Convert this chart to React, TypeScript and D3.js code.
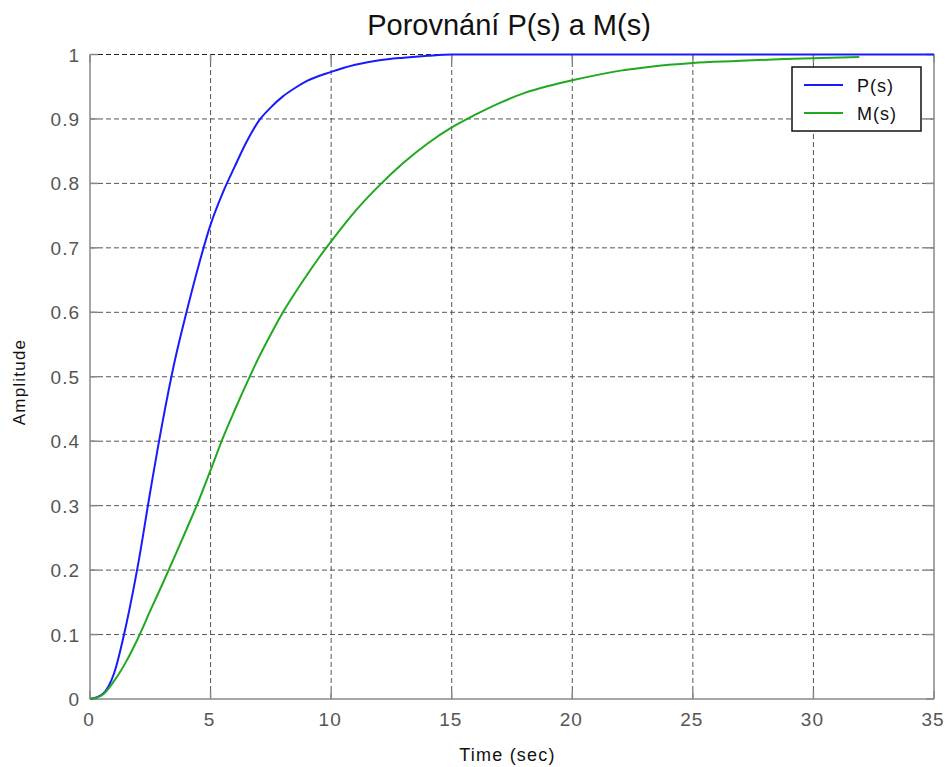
import React from "react";
import * as d3 from "d3";

const W = 947;
const H = 767;

const xTicks = [0, 5, 10, 15, 20, 25, 30, 35];
const yTicks = [0, 0.1, 0.2, 0.3, 0.4, 0.5, 0.6, 0.7, 0.8, 0.9, 1];
const yTickLabels = ["0", "0.1", "0.2", "0.3", "0.4", "0.5", "0.6", "0.7", "0.8", "0.9", "1"];

const tP = [0, 0.5, 1, 1.5, 2, 2.5, 3, 3.5, 4, 4.5, 5, 5.5, 6, 6.5, 7, 7.5, 8, 8.5, 9, 10, 11, 12, 13, 14, 15, 35];
const P = [0, 0.007, 0.04, 0.115, 0.21, 0.322, 0.428, 0.522, 0.6, 0.672, 0.736, 0.785, 0.826, 0.865, 0.897, 0.918, 0.935, 0.948, 0.959, 0.973, 0.984, 0.991, 0.995, 0.998, 1.0, 1.0];

const tM = [0, 0.5, 1, 1.5, 2, 2.5, 3, 3.5, 4, 4.5, 5, 5.5, 6, 6.5, 7, 7.5, 8, 8.5, 9, 9.5, 10, 11, 12, 13, 14, 15, 16, 17, 18, 19, 20, 21, 22, 23, 24, 25, 26.8, 28.8, 31.9];
const M = [0, 0.006, 0.028, 0.058, 0.095, 0.137, 0.178, 0.22, 0.263, 0.307, 0.355, 0.404, 0.448, 0.49, 0.53, 0.566, 0.6, 0.63, 0.658, 0.685, 0.71, 0.757, 0.797, 0.832, 0.862, 0.887, 0.907, 0.925, 0.94, 0.951, 0.96, 0.968, 0.975, 0.98, 0.984, 0.987, 0.99, 0.993, 0.996];

const seriesNames = ["P(s)", "M(s)"];
const seriesColors = ["#1a1aff", "#20a820"];

const title = "Porovnání P(s) a M(s)";
const xLabel = "Time (sec)";
const yLabel = "Amplitude";

const margin = { left: 90, right: 934, top: 54.5, bottom: 699 };

export default function App() {
  const x = d3.scaleLinear().domain([0, 35]).range([margin.left, margin.right]);
  const y = d3.scaleLinear().domain([0, 1]).range([margin.bottom, margin.top]);

  const line = d3
    .line<[number, number]>()
    .x((d) => x(d[0]))
    .y((d) => y(d[1]))
    .curve(d3.curveMonotoneX);

  const pData: [number, number][] = tP.map((t, i) => [t, P[i]]);
  const mData: [number, number][] = tM.map((t, i) => [t, M[i]]);

  const font = "'Liberation Sans', Arial, sans-serif";
  const gridColor = "#555";
  const axisColor = "#888";

  return (
    <svg
      width={W}
      height={H}
      style={{ position: "absolute", left: 0, top: 0, background: "#fff" }}
      fontFamily={font}
    >
      <rect x={0} y={0} width={W} height={H} fill="#fff" />
      {/* grid */}
      {xTicks.slice(1, -1).map((t) => (
        <line
          key={"gx" + t}
          x1={x(t)}
          x2={x(t)}
          y1={y(0)}
          y2={y(1)}
          stroke={gridColor}
          strokeWidth={1}
          strokeDasharray="5,3"
        />
      ))}
      {yTicks.slice(1).map((t) => (
        <line
          key={"gy" + t}
          x1={x(0)}
          x2={x(35)}
          y1={y(t)}
          y2={y(t)}
          stroke={t === 1 ? "#222" : gridColor}
          strokeWidth={1}
          strokeDasharray="5,3"
        />
      ))}
      {/* axes box */}
      <line x1={x(0)} x2={x(35)} y1={y(0)} y2={y(0)} stroke={axisColor} strokeWidth={1.5} />
      <line x1={x(0)} x2={x(0)} y1={y(0)} y2={y(1)} stroke={axisColor} strokeWidth={1.5} />
      <line x1={x(35)} x2={x(35)} y1={y(0)} y2={y(1)} stroke={axisColor} strokeWidth={1.5} />
      {/* tick marks */}
      {xTicks.map((t) => (
        <g key={"tx" + t}>
          <line x1={x(t)} x2={x(t)} y1={y(0)} y2={y(0) - 8} stroke={axisColor} strokeWidth={1.5} />
          <line x1={x(t)} x2={x(t)} y1={y(1)} y2={y(1) + 8} stroke={axisColor} strokeWidth={1.5} />
        </g>
      ))}
      {yTicks.map((t) => (
        <g key={"ty" + t}>
          <line x1={x(0)} x2={x(0) + 8} y1={y(t)} y2={y(t)} stroke={axisColor} strokeWidth={1.5} />
          <line x1={x(35)} x2={x(35) - 8} y1={y(t)} y2={y(t)} stroke={axisColor} strokeWidth={1.5} />
        </g>
      ))}
      {/* tick labels */}
      {xTicks.map((t) => (
        <text
          key={"lx" + t}
          x={x(t) - 1}
          y={726}
          textAnchor="middle"
          fontSize={19}
          letterSpacing={1}
          fill="#555"
        >
          {String(t)}
        </text>
      ))}
      {yTicks.map((t, i) => (
        <text
          key={"ly" + t}
          x={80}
          y={y(t) + 7}
          textAnchor="end"
          fontSize={19}
          letterSpacing={1}
          fill="#555"
        >
          {yTickLabels[i]}
        </text>
      ))}
      {/* series */}
      <path d={line(pData) || ""} fill="none" stroke={seriesColors[0]} strokeWidth={2} />
      <path d={line(mData) || ""} fill="none" stroke={seriesColors[1]} strokeWidth={2} />
      {/* legend */}
      <rect x={792} y={67} width={129} height={64} fill="#fff" stroke="#111" strokeWidth={1.5} />
      {seriesNames.map((n, i) => (
        <g key={n}>
          <line
            x1={804}
            x2={843}
            y1={85 + i * 28}
            y2={85 + i * 28}
            stroke={seriesColors[i]}
            strokeWidth={2}
          />
          <text x={857} y={85 + i * 28 + 6.5} fontSize={18} letterSpacing={1} fill="#111">
            {n}
          </text>
        </g>
      ))}
      {/* title and labels */}
      <text x={509} y={35} textAnchor="middle" fontSize={29} fill="#111">
        {title}
      </text>
      <text x={507.5} y={761} textAnchor="middle" fontSize={18} letterSpacing={1.2} fill="#111">
        {xLabel}
      </text>
      <text
        transform={`translate(25,382) rotate(-90)`}
        textAnchor="middle"
        fontSize={17}
        letterSpacing={1.2}
        fill="#111"
      >
        {yLabel}
      </text>
    </svg>
  );
}
